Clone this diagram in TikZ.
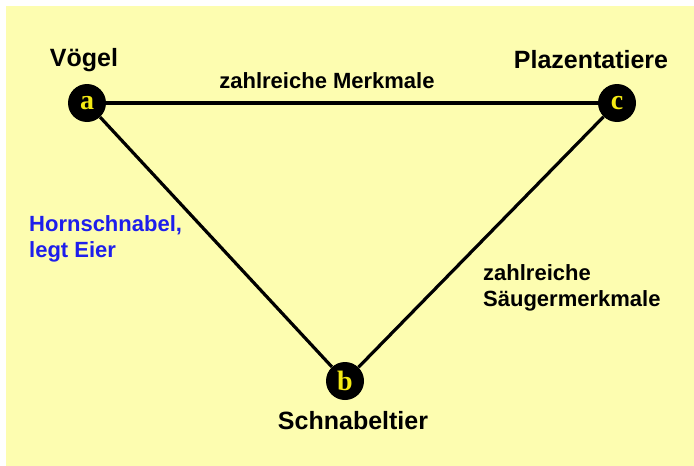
\documentclass[tikz,border=0pt]{standalone}
\usepackage{fontspec}
\setmainfont{Liberation Sans}
\newfontfamily\letterfont{Liberation Serif}
\usepackage{tikz}
\usetikzlibrary{positioning, calc}
\definecolor{paleyellow}{RGB}{253,253,176}
\definecolor{hornblue}{RGB}{30,30,235}
\definecolor{lettergold}{RGB}{245,235,20}

\tikzset{
  taxon/.style={circle, fill=black, minimum size=38pt, inner sep=0pt,
                text=lettergold, font=\letterfont\bfseries\fontsize{28}{28}\selectfont},
  taxlabel/.style={font=\bfseries\fontsize{25}{28}\selectfont, inner sep=0pt},
  traitlabel/.style={font=\bfseries\fontsize{22}{26}\selectfont, inner sep=0pt, align=left},
  relation/.style={line width=3.2pt}
}

\begin{document}
\begin{tikzpicture}[x=1pt, y=-1pt]
    \useasboundingbox (0,0) rectangle (694,466);
    \fill[paleyellow] (6,6) rectangle (694,466);

    % die drei Gruppen
    \node[taxon] (a) at (87,103) {a};
    \node[taxon] (c) at (617,103) {c};
    \node[taxon] (b) at (345,381) {b};

    \draw[relation] (a) -- (c);
    \draw[relation] (a) -- (b);
    \draw[relation] (b) -- (c);

    \node[taxlabel] (voegel) at (84,60) {Vögel};
    \node[taxlabel] (plazenta) at (591,60) {Plazentatiere};
    \node[taxlabel] (schnabel) at (353,421) {Schnabeltier};

    % Merkmale
    \node[traitlabel] (ac) at (327,81) {zahlreiche Merkmale};
    \node[traitlabel, text=hornblue, anchor=west] (ab) at (29,239) {Hornschnabel,\\legt Eier};
    \node[traitlabel, anchor=west] (bc) at (483,288) {zahlreiche\\Säugermerkmale};
  \end{tikzpicture}
\end{document}
